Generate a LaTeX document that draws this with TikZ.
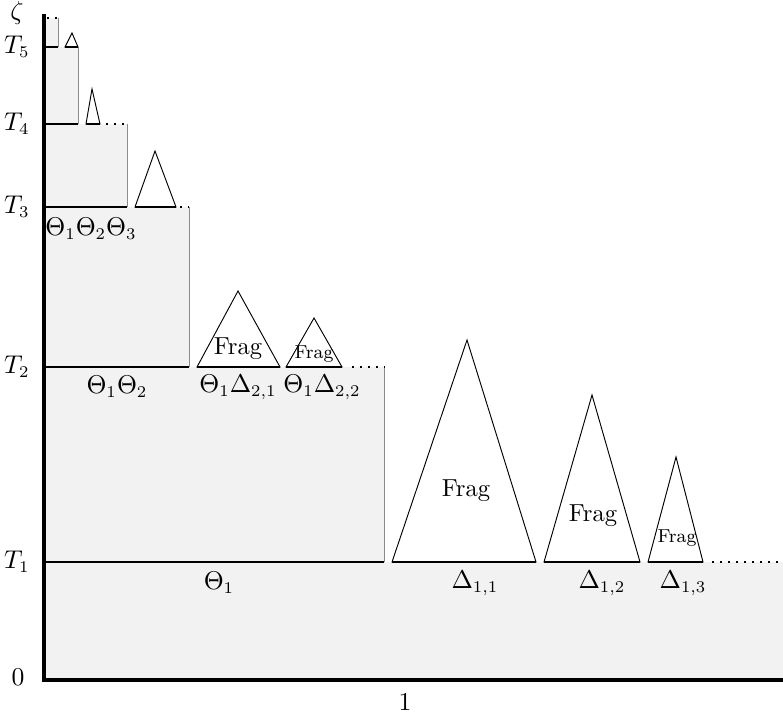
\documentclass[tikz,border=0pt]{standalone}
\usepackage{tikz}

\begin{document}
\begin{tikzpicture}[
    x=0.015cm, y=-0.015cm,
    every node/.style={font=\fontsize{10.5}{12.6}\selectfont},
    band/.style={fill=black!5, draw=none},
    edge_line/.style={draw=black!45, thin},
    seg_line/.style={line width=1.25pt, draw=black},
    tri/.style={draw=black, thin, fill=white},
    dots_line/.style={line width=1pt, dash pattern=on 1pt off 2.4pt, draw=black},
    axis_line/.style={line width=1.3pt, draw=black},
    small_frag/.style={font=\footnotesize, inner sep=1pt}
]
    \useasboundingbox (0,0) rectangle (783,715);

    % Shaded levels
    \fill [band] (44,562) rectangle (783,680);
    \fill [band] (44,367) rectangle (384,562);
    \fill [band] (44,207) rectangle (189,367);
    \fill [band] (44,124) rectangle (127,207);
    \fill [band] (44,47) rectangle (78,124);
    \fill [band] (44,18) rectangle (58,47);

    % Right edges of the levels
    \draw [edge_line] (384,367) -- (384,562);
    \draw [edge_line] (189,207) -- (189,367);
    \draw [edge_line] (127,124) -- (127,207);
    \draw [edge_line] (78,47) -- (78,124);
    \draw [edge_line] (58,18) -- (58,47);

    % Triangles on T1
    \draw [tri] (392,562) -- (467,340) -- (536,562) -- cycle;
    \draw [tri] (544,562) -- (592,395) -- (640,562) -- cycle;
    \draw [tri] (648,562) -- (676,457) -- (703,562) -- cycle;
    \node (frag11) at (466,491) {Frag};
    \node (frag12) at (593,516) {Frag};
    \node (frag13) [small_frag] at (677,538) {Frag};

    % Triangles on T2
    \draw [tri] (197,367) -- (238,291) -- (280,367) -- cycle;
    \draw [tri] (286,367) -- (314,318) -- (342,367) -- cycle;
    \node (frag21) at (238,349) {Frag};
    \node (frag22) [small_frag] at (314,354) {Frag};

    % Triangles on T3, T4, T5
    \draw [tri] (135,207) -- (155,151) -- (176,207) -- cycle;
    \draw [tri] (86,124) -- (92,89) -- (100,124) -- cycle;
    \draw [tri] (65,47) -- (72,33) -- (78,47) -- cycle;

    % Thick segments
    \draw [seg_line] (44,562) -- (384,562);
    \draw [seg_line] (392,562) -- (536,562);
    \draw [seg_line] (544,562) -- (640,562);
    \draw [seg_line] (648,562) -- (703,562);
    \draw [dots_line] (712,562) -- (783,562);

    \draw [seg_line] (44,367) -- (189,367);
    \draw [seg_line] (197,367) -- (280,367);
    \draw [seg_line] (286,367) -- (342,367);
    \draw [dots_line] (352,367) -- (384,367);

    \draw [seg_line] (44,207) -- (127,207);
    \draw [seg_line] (135,207) -- (176,207);
    \draw [dots_line] (180,207) -- (189,207);

    \draw [seg_line] (44,124) -- (78,124);
    \draw [seg_line] (86,124) -- (100,124);
    \draw [dots_line] (106,124) -- (127,124);

    \draw [seg_line] (44,47) -- (58,47);
    \draw [seg_line] (65,47) -- (78,47);
    \draw [dots_line] (47,18) -- (57,18);

    % Axes
    \draw [axis_line] (44,14) -- (44,680) -- (783,680);

    % Segment labels
    \node (theta1) at (219,583) {$\Theta_1$};
    \node (delta11) at (475,583) {$\Delta_{1,1}$};
    \node (delta12) at (602,583) {$\Delta_{1,2}$};
    \node (delta13) at (683,583) {$\Delta_{1,3}$};
    \node (theta12) at (117,387) {$\Theta_1\Theta_2$};
    \node (delta21) at (238,387) {$\Theta_1\Delta_{2,1}$};
    \node (delta22) at (322,387) {$\Theta_1\Delta_{2,2}$};
    \node (theta123) at (91,229) {$\Theta_1\Theta_2\Theta_3$};

    % Axis labels
    \node (t1) [anchor=east] at (38,562) {$T_1$};
    \node (t2) [anchor=east] at (38,367) {$T_2$};
    \node (t3) [anchor=east] at (38,207) {$T_3$};
    \node (t4) [anchor=east] at (38,124) {$T_4$};
    \node (t5) [anchor=east] at (38,47) {$T_5$};
    \node (zeta) at (17,13) {$\zeta$};
    \node (zero) at (18,677) {$0$};
    \node (one) at (405,702) {$1$};
\end{tikzpicture}
\end{document}
